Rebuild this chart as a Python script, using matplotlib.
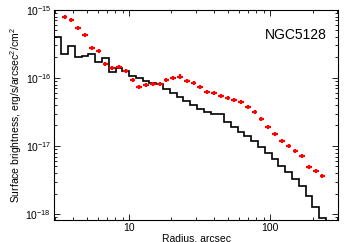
import numpy as np
import matplotlib
matplotlib.use('Agg')
import matplotlib.pyplot as plt
from matplotlib.ticker import LogLocator, FixedLocator, FuncFormatter, NullFormatter

""" Surface brightness profile of NGC5128 """

plt.rcParams['font.family'] = ['Liberation Sans', 'DejaVu Sans']
plt.rcParams['mathtext.default'] = 'regular'

# red points: radius (arcsec) and surface brightness
radius = [3.50, 3.91, 4.37, 4.87, 5.45, 6.08, 6.80, 7.59, 8.48, 9.47,
          10.6, 11.8, 13.2, 14.8, 16.5, 18.4, 20.6, 23.0, 25.7, 28.7,
          32.0, 35.8, 40.0, 44.7, 49.9, 55.7, 62.2, 69.5, 77.7, 86.8,
          96.9, 108.2, 120.9, 135.1, 151.0, 168.6, 188.4, 210.4, 235.0]
sb_points = [7.89e-16, 7.06e-16, 5.39e-16, 4.29e-16, 2.79e-16, 2.47e-16, 1.61e-16, 1.39e-16, 1.47e-16, 1.28e-16,
             9.35e-17, 7.38e-17, 7.81e-17, 8.07e-17, 8.07e-17, 9.25e-17, 1.00e-16, 1.05e-16, 9.04e-17, 8.43e-17,
             7.45e-17, 6.22e-17, 6.08e-17, 5.49e-17, 5.08e-17, 4.80e-17, 4.44e-17, 3.78e-17, 3.16e-17, 2.52e-17,
             1.89e-17, 1.49e-17, 1.20e-17, 9.90e-18, 8.54e-18, 7.06e-18, 4.86e-18, 4.34e-18, 3.62e-18]

# black histogram: bin edges and values
bin_edges = [2.963, 3.309, 3.697, 4.129, 4.613, 5.152, 5.756, 6.430, 7.183, 8.024,
             8.963, 10.01, 11.18, 12.50, 13.96, 15.60, 17.42, 19.46, 21.74, 24.29,
             27.13, 30.31, 33.86, 37.82, 42.25, 47.20, 52.72, 58.88, 65.78, 73.48,
             82.09, 91.70, 102.4, 114.4, 127.8, 142.8, 159.6, 178.2, 199.1, 222.4, 248.5]
sb_hist = [3.97e-16, 2.28e-16, 2.92e-16, 2.02e-16, 2.11e-16, 2.25e-16, 1.74e-16, 1.95e-16, 1.24e-16, 1.42e-16,
           1.27e-16, 1.08e-16, 9.90e-17, 9.12e-17, 8.30e-17, 8.02e-17, 6.77e-17, 6.02e-17, 5.26e-17, 4.59e-17,
           4.01e-17, 3.47e-17, 3.19e-17, 2.92e-17, 2.92e-17, 2.28e-17, 1.92e-17, 1.62e-17, 1.40e-17, 1.19e-17,
           9.77e-18, 7.97e-18, 6.37e-18, 5.08e-18, 4.08e-18, 3.24e-18, 2.58e-18, 1.84e-18, 1.25e-18, 8.59e-19]

x_ticks = [10, 100]
y_ticks = [1e-18, 1e-17, 1e-16, 1e-15]

fig = plt.figure(figsize=(3.46, 2.42), dpi=100)
ax = fig.add_axes([0.156, 0.091, 0.821, 0.868])

ax.stairs(sb_hist, bin_edges, baseline=1e-20, color='black', lw=1.2)

r = np.array(radius)
s = np.array(sb_points)
xerr = [r * (1 - 10**-0.02), r * (10**0.02 - 1)]
yerr = [s * (1 - 10**-0.03), s * (10**0.03 - 1)]
ax.errorbar(r, s, xerr=xerr, yerr=yerr, fmt='none', ecolor='red', elinewidth=1.6, capsize=0)

ax.set_xscale('log')
ax.set_yscale('log')
ax.set_xlim(2.94, 303)
ax.set_ylim(8.17e-19, 1e-15)

ax.xaxis.set_major_locator(FixedLocator(x_ticks))
ax.xaxis.set_major_formatter(FuncFormatter(lambda v, p: '%d' % v))
ax.xaxis.set_minor_formatter(NullFormatter())
ax.yaxis.set_major_locator(FixedLocator(y_ticks))
ax.yaxis.set_major_formatter(FuncFormatter(lambda v, p: '$10^{%d}$' % round(np.log10(v))))
ax.yaxis.set_minor_locator(LogLocator(base=10, subs=np.arange(2, 10), numticks=10))
ax.yaxis.set_minor_formatter(NullFormatter())

ax.tick_params(which='both', direction='in', top=True, right=True, labelsize=7.5, width=0.6, pad=2)
ax.tick_params(which='major', length=4)
ax.tick_params(which='minor', length=2)
for sp in ax.spines.values():
    sp.set_linewidth(0.8)

ax.set_xlabel('Radius, arcsec', fontsize=7.5, labelpad=0.5)
ax.set_ylabel('Surface brightness, erg/s/arcsec$^2$/cm$^2$', fontsize=7.5, labelpad=1)
ax.text(0.96, 0.88, 'NGC5128', transform=ax.transAxes, ha='right', va='center', fontsize=10)

fig.savefig('out.png', dpi=100)
